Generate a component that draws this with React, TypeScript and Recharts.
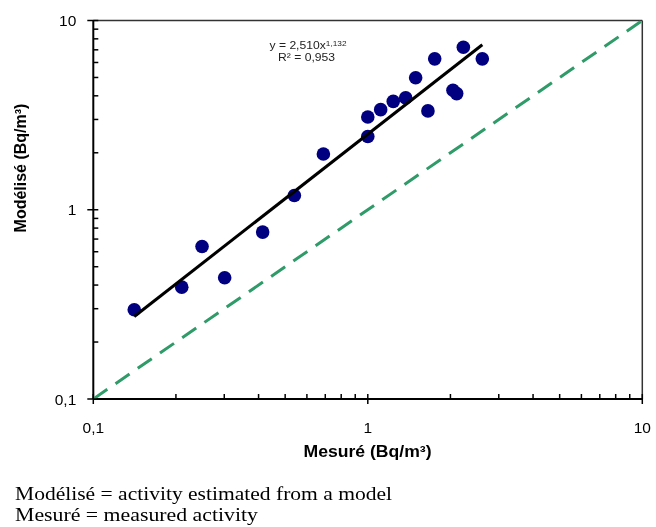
import React from 'react';
import {
  ScatterChart,
  Scatter,
  XAxis,
  YAxis,
  ReferenceLine,
} from 'recharts';

const measured = [
  0.141, 0.21, 0.249, 0.301, 0.414, 0.54, 0.689, 1.0, 1.0, 1.114,
  1.238, 1.374, 1.494, 1.656, 1.753, 2.043, 2.108, 2.229, 2.613,
];
const modelled = [
  0.296, 0.39, 0.639, 0.437, 0.762, 1.19, 1.97, 2.44, 3.09, 3.38,
  3.74, 3.9, 4.98, 3.33, 6.27, 4.28, 4.11, 7.22, 6.27,
];

// power trend line ends (y = 2,510x^1,132)
const trendX = [0.141, 2.613];
const trendY = [0.273, 7.44];

// 1:1 line
const identityX = [0.1, 10];
const identityY = [0.1, 10];

const logTicks = [
  0.1, 0.2, 0.3, 0.4, 0.5, 0.6, 0.7, 0.8, 0.9,
  1, 2, 3, 4, 5, 6, 7, 8, 9, 10,
];
const majorLabels: Record<string, string> = { '0.1': '0,1', '1': '1', '10': '10' };

const points = measured.map((x, i) => ({ x, y: modelled[i] }));
const trend = trendX.map((x, i) => ({ x, y: trendY[i] }));
const identity = identityX.map((x, i) => ({ x, y: identityY[i] }));

const FONT = '"Liberation Sans", Arial, sans-serif';
const SERIF = '"Liberation Serif", "Times New Roman", serif';

const XTick = (props: any) => {
  const { x, y, payload } = props;
  const label = majorLabels[String(payload.value)];
  return (
    <g>
      <line x1={x} x2={x} y1={label ? y + 5 : y} y2={y - 5} stroke="#000" strokeWidth={1.5} />
      {label && (
        <text x={x} y={y + 34} textAnchor="middle" fontSize={15.5} fontFamily={FONT} fill="#000">
          {label}
        </text>
      )}
    </g>
  );
};

const YTick = (props: any) => {
  const { x, y, payload } = props;
  const label = majorLabels[String(payload.value)];
  return (
    <g>
      <line x1={label ? x - 6 : x} x2={x + 5} y1={y} y2={y} stroke="#000" strokeWidth={1.5} />
      {label && (
        <text x={x - 17} y={y + 5.5} textAnchor="end" fontSize={15.5} fontFamily={FONT} fill="#000">
          {label}
        </text>
      )}
    </g>
  );
};

const noDot = () => <g />;
const bigDot = (props: any) => <circle cx={props.cx} cy={props.cy} r={6.8} fill="#000080" />;

export default function App() {
  return (
    <div style={{ position: 'fixed', left: 0, top: 0 }}>
      <ScatterChart
        width={656}
        height={527}
        margin={{ top: 20.5, right: 13.7, bottom: 68, left: 0 }}
      >
        <XAxis
          type="number"
          dataKey="x"
          scale="log"
          domain={[0.1, 10]}
          ticks={logTicks}
          interval={0}
          allowDataOverflow
          height={60}
          tickSize={0}
          tickMargin={0}
          tickLine={false}
          tick={<XTick />}
          axisLine={{ stroke: '#000', strokeWidth: 2 }}
        />
        <YAxis
          type="number"
          dataKey="y"
          scale="log"
          domain={[0.1, 10]}
          ticks={logTicks}
          interval={0}
          allowDataOverflow
          width={93.3}
          tickSize={0}
          tickMargin={0}
          tickLine={false}
          tick={<YTick />}
          axisLine={{ stroke: '#000', strokeWidth: 2 }}
        />
        <ReferenceLine y={10} stroke="#333" strokeWidth={1.5} />
        <ReferenceLine x={10} stroke="#333" strokeWidth={1.5} />
        <Scatter
          data={identity}
          line={{ stroke: '#2E9B68', strokeWidth: 3, strokeDasharray: '17 10' }}
          shape={noDot}
          isAnimationActive={false}
        />
        <Scatter data={points} fill="#000080" shape={bigDot} isAnimationActive={false} />
        <Scatter
          data={trend}
          line={{ stroke: '#000', strokeWidth: 3 }}
          shape={noDot}
          isAnimationActive={false}
        />
        <g fontFamily={FONT}>
          <text
            x={308}
            y={49}
            textAnchor="middle"
            fontSize={11}
            fill="#222"
            textLength={77}
            lengthAdjust="spacingAndGlyphs"
          >
            y = 2,510x<tspan fontSize={7.5} dy={-3.5}>1,132</tspan>
          </text>
          <text
            x={306.5}
            y={61}
            textAnchor="middle"
            fontSize={11}
            fill="#222"
            textLength={57}
            lengthAdjust="spacingAndGlyphs"
          >
            R² = 0,953
          </text>
          <text
            x={367.5}
            y={457}
            textAnchor="middle"
            fontSize={16}
            fontWeight="bold"
            fill="#000"
            textLength={128}
            lengthAdjust="spacingAndGlyphs"
          >
            Mesuré (Bq/m³)
          </text>
          <text
            transform="translate(26,168) rotate(-90)"
            textAnchor="middle"
            fontSize={16}
            fontWeight="bold"
            fill="#000"
          >
            Modélisé (Bq/m³)
          </text>
        </g>
        <g fontFamily={SERIF} fontSize={19} fill="#000">
          <text x={15} y={500} textLength={377} lengthAdjust="spacingAndGlyphs">
            Modélisé = activity estimated from a model
          </text>
          <text x={15} y={521} textLength={243} lengthAdjust="spacingAndGlyphs">
            Mesuré = measured activity
          </text>
        </g>
      </ScatterChart>
    </div>
  );
}
